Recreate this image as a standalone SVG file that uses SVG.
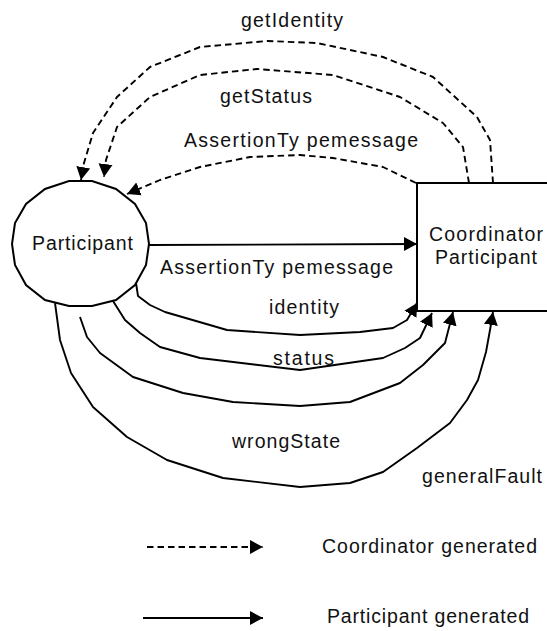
<svg xmlns="http://www.w3.org/2000/svg" width="547" height="631" viewBox="0 0 547 631">
<style>
text{font-family:"Liberation Sans",Arial,sans-serif;font-size:19.5px;fill:#111}
.node{fill:#fff;stroke:#000;stroke-width:2}
.c{fill:none;stroke:#000;stroke-width:1.9;stroke-linejoin:round}
.d{stroke-dasharray:6.5 4}
.s{marker-end:url(#ah)}
</style>
<defs>
<marker id="ah" markerUnits="userSpaceOnUse" markerWidth="15" markerHeight="15" refX="13" refY="7" orient="auto" viewBox="0 0 15 14">
<path d="M0,0 L13,7 L0,14 z" fill="#000"/>
</marker>
</defs>
<rect width="547" height="631" fill="#fff"/>
<g id="connectors">
<path class="c d s" d="M493,183 L490,140 L477,117 L433,77 L383,57 L317,43 L267,41 L200,47 L150,67 L117,97 L93,133 L84,163 L81,180"/>
<path class="c d s" d="M469,183 L463,147 L443,123 L400,97 L333,75 L257,69 L200,75 L150,97 L117,127 L106,160 L104,177"/>
<path class="c d s" d="M416,183 L383,167 L333,158 L300,155 L250,157 L200,167 L160,180 L127,194"/>
<path class="c s" d="M149,245 L417,244"/>
<path class="c s" d="M136,283 L138,296 L150,305 L165,312 L227,330 L300,335 L360,332 L393,328 L407,320 L417,303"/>
<path class="c s" d="M113,301 L125,320 L140,333 L160,347 L200,358 L300,370 L383,358 L405,348 L420,338 L432,313"/>
<path class="c s" d="M80,317 L87,337 L100,353 L133,377 L183,393 L233,402 L300,406 L350,402 L400,383 L423,365 L445,343 L453,312"/>
<path class="c s" d="M55,303 L60,340 L71,373 L93,407 L127,437 L167,460 L223,478 L300,487 L350,483 L383,472 L417,448 L450,423 L467,400 L478,380 L486,352 L490,330 L493,312"/>
<path class="c d s" d="M147,547 L263,547"/>
<path class="c s" d="M143,618 L263,618"/>
</g>
<g id="participant">
<polygon class="node" points="69,181 92,181 116,189 135,204 146,223 149,244 146,265 135,285 116,300 92,306 69,306 45,300 26,285 15,265 12,244 15,223 26,204 45,189"/>
<text x="32" y="250" textLength="101" lengthAdjust="spacing">Participant</text>
</g>
<g id="coordinator">
<rect class="node" x="417" y="183" width="140" height="128"/>
<text x="429" y="241" textLength="114" lengthAdjust="spacing">Coordinator</text>
<text x="435" y="264" textLength="102" lengthAdjust="spacing">Participant</text>
</g>
<g id="labels">
<text x="241" y="27" textLength="102" lengthAdjust="spacing">getIdentity</text>
<text x="220" y="103" textLength="92" lengthAdjust="spacing">getStatus</text>
<text x="184" y="147" textLength="234" lengthAdjust="spacing">AssertionTy pemessage</text>
<text x="160" y="274" textLength="233" lengthAdjust="spacing">AssertionTy pemessage</text>
<text x="269" y="314" textLength="70" lengthAdjust="spacing">identity</text>
<text x="273" y="365" textLength="61" lengthAdjust="spacing">status</text>
<text x="232" y="448" textLength="108" lengthAdjust="spacing">wrongState</text>
<text x="422" y="483" textLength="120" lengthAdjust="spacing">generalFault</text>
<text x="322" y="553" textLength="215" lengthAdjust="spacing">Coordinator generated</text>
<text x="327" y="623" textLength="202" lengthAdjust="spacing">Participant generated</text>
</g>
</svg>
